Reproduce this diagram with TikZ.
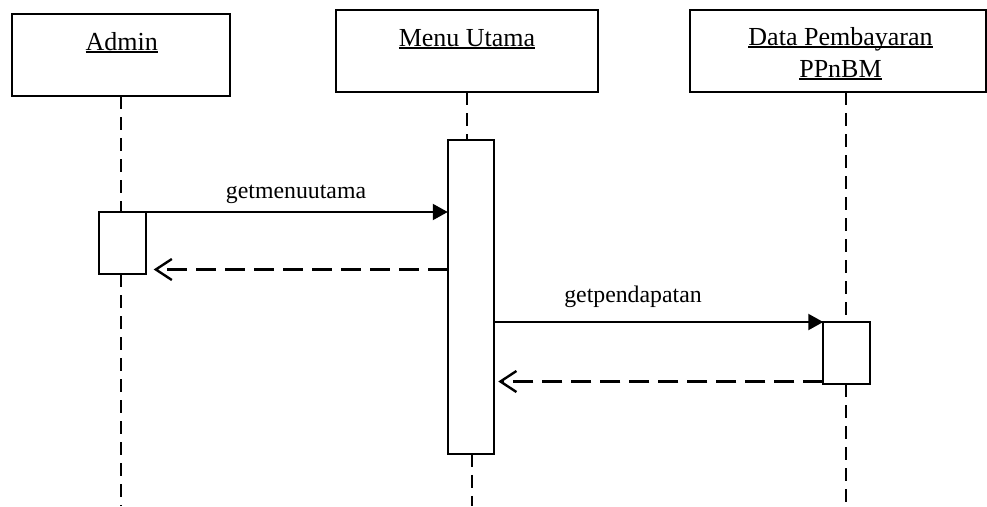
\documentclass[tikz,border=0pt]{standalone}
\usepackage{fontspec}
\setmainfont{Liberation Serif}
\usetikzlibrary{arrows.meta,calc}
\newcommand\myul[1]{\setbox0=\hbox{#1}\rlap{\vrule width\wd0 height -1.2pt depth 3.4pt}\box0}
\tikzset{
  objbox/.style={draw, line width=2.2pt, inner sep=0pt, outer sep=0pt, fill=white},
  actbox/.style={draw, line width=2.2pt, inner sep=0pt, outer sep=0pt, fill=white, minimum width=46.5pt},
  objtext/.style={anchor=base, inner sep=0pt, font=\fontsize{26}{32}\selectfont},
  msgtext/.style={anchor=base, inner sep=0pt, font=\fontsize{23.8}{28}\selectfont},
  lifeline/.style={line width=2.2pt, dash pattern=on 13pt off 8pt},
  callmsg/.style={line width=2.2pt, -{Triangle[length=15pt,width=16pt]}},
  retmsg/.style={line width=2.2pt, dash pattern=on 20pt off 9pt, -{Straight Barb[length=16pt,width=21pt,line width=2.4pt]}}
}
\begin{document}
\begin{tikzpicture}[x=1pt,y=-1pt]
\useasboundingbox (0,0) rectangle (987,506);
\fill[white] (0,0) rectangle (987,506);
% object boxes
\node[objbox, minimum width=218.6pt, minimum height=82.3pt] (admin) at (121,55.2) {};
\node[objbox, minimum width=262pt, minimum height=82pt] (menu) at (467,51) {};
\node[objbox, minimum width=296pt, minimum height=82pt] (data) at (838,51) {};
\node[objtext] (admint) at (121.7,50) {\myul{Admin}};
\node[objtext] (menut) at (467,46) {\myul{Menu Utama}};
\node[objtext] (datat1) at (840.5,45) {\myul{Data Pembayaran}};
\node[objtext] (datat2) at (840.5,77) {\myul{PPnBM}};
% activation boxes
\node[actbox, minimum height=62pt] (aact) at (122.4,243) {};
\node[actbox, minimum height=313.7pt] (mact) at (471,297) {};
\node[actbox, minimum height=62pt] (dact) at (846.5,353) {};
% lifeline ends
\coordinate (aend) at (121,506);
\coordinate (mend) at (472,506);
\coordinate (dend) at (846,506);
% lifelines
\draw[lifeline] (admin.south) -- (admin.south |- aact.north);
\draw[lifeline] (admin.south |- aact.south) -- (aend);
\draw[lifeline] (menu.south) -- (menu.south |- mact.north);
\draw[lifeline] (mend |- mact.south) -- (mend);
\draw[lifeline] (dend |- data.south) -- (dend |- dact.north);
\draw[lifeline] (dend |- dact.south) -- (dend);
% messages
\draw[callmsg] (aact.north east) -- (aact.north east -| mact.west);
\node[msgtext] (m1) at (296,198) {getmenuutama};
\draw[retmsg] ([yshift=4.5pt]aact.south east -| mact.west) -- ([xshift=8pt,yshift=4.5pt]aact.south east);
\draw[callmsg] (dact.north west -| mact.east) -- (dact.north west);
\node[msgtext] (m2) at (633,302) {getpendapatan};
\draw[retmsg] ([yshift=2.5pt]dact.south west) -- ([xshift=4pt,yshift=2.5pt]dact.south west -| mact.east);
\end{tikzpicture}
\end{document}
